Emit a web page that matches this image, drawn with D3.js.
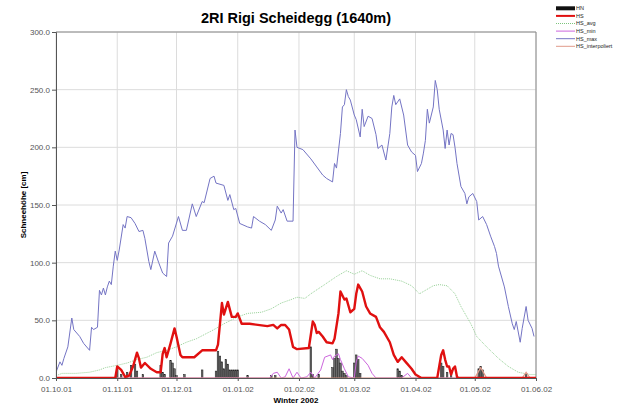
<!DOCTYPE html>
<html>
<head>
<meta charset="utf-8">
<script src="https://cdn.jsdelivr.net/npm/d3@7"></script>
<style>
  body { margin: 0; background: #fff; }
  text { font-family: "Liberation Sans", Arial, sans-serif; }
</style>
</head>
<body>
<div id="d3-container"></div>
<script>
/* CONSTANTS AND GLOBALS */
const width = 619,
  height = 406,
  margin = { top: 32, bottom: 28, left: 56, right: 83 };

// season starts on 01.10.01, all day numbers below count from there
const seasonStart = new Date(2001, 9, 1);
const seasonEnd = new Date(2002, 5, 1);

const title = "2RI Rigi Scheidegg (1640m)";
const yLabel = "Schneehöhe [cm]";
const xLabel = "Winter 2002";
const yTicks = [0, 50, 100, 150, 200, 250, 300];
const xTickLabels = ["01.10.01", "01.11.01", "01.12.01", "01.01.02", "01.02.02", "01.03.02", "01.04.02", "01.05.02", "01.06.02"];
const legendNames = ["HN", "HS", "HS_avg", "HS_min", "HS_max", "HS_interpoliert"];

// HS_max
const hsMaxDay = [0,2,3,4,6,8,9,12,14,17,18,19,21,22,23,24,25,26,27,28,29,30,31,32,34,35,36,38,40,42,44,45,47,48,50,52,54,56,57,59,62,64,66,69,71,74,75,78,80,81,85,87,88,90,91,93,97,99,100,103,106,109,111,112,114,115,117,120,121,122,125,129,132,135,137,140,141,142,144,145,146,147,148,149,151,152,154,155,156,158,160,162,163,165,167,169,170,171,172,174,176,178,180,182,183,185,186,187,188,189,191,192,193,194,196,197,198,199,200,201,202,203,205,207,208,209,211,213,214,216,218,220,222,223,224,227,229,231,232,233,235,236,238,239,241,242];
const hsMaxVal = [5,14,11,17,27,52,42,36,30,24,44,42,44,76,72,78,72,79,84,81,97,110,102,111,133,130,140,139,134,127,128,121,101,94,110,100,91,88,117,123,140,128,128,151,140,153,152,173,175,169,167,154,159,146,147,134,131,130,140,136,133,128,137,149,143,146,136,136,215,200,198,190,183,176,173,170,186,182,212,235,237,250,244,241,228,224,209,233,218,227,225,211,199,202,189,212,235,245,237,242,228,202,196,193,179,186,195,206,233,221,235,258,250,233,215,199,215,202,212,211,200,186,166,160,151,157,160,153,137,140,133,123,114,108,97,79,62,47,42,49,31,43,62,50,43,36];

// HS_avg
const hsAvgDay = [0,3,10,17,22,25,31,36,41,46,51,56,61,66,71,80,85,92,97,104,109,114,119,122,126,129,136,142,147,151,155,159,164,169,175,180,184,186,191,194,198,202,205,210,213,218,224,229,234,240,243];
const hsAvgVal = [2,4,4,5,7,9,11,13,16,18,22,24,27,31,34,42,47,53,56,57,60,65,68,70,69,73,81,88,93,90,93,89,86,86,84,80,73,75,80,81,80,73,62,47,36,27,17,10,5,3,3];

// HS
const hsDay = [0,30,31,33,35,37,39,41,42,43,45,48,51,53,54,55,56,58,60,61,63,64,70,74,81,82,84,85,87,89,91,92,94,98,107,110,112,114,116,118,120,122,128,130,131,132,133,135,137,140,141,143,144,146,147,149,151,152,153,155,157,159,162,164,166,169,171,173,175,177,180,182,185,193,195,196,197,198,199,200,201,202,203,204,243];
const hsVal = [0,0,10,7,1,2,10,22,17,9,13,8,5,5,21,26,18,30,43,36,20,18,18,24,24,29,65,55,66,53,53,56,47,47,45,46,43,46,46,42,27,25,26,49,46,39,40,36,31,30,34,56,75,68,69,57,60,73,81,75,62,56,53,44,40,31,20,14,18,14,8,3,0,0,20,24,16,10,10,3,8,10,1,0,0];

// HS_min
const hsMinDay = [31,108,110,112,114,116,118,120,122,124,127,129,131,134,136,139,140,141,143,144,146,148,151,152,153,155,158,160,162,175,178,180,243];
const hsMinVal = [0,0,4,5,0,1,8,0,5,0,1,5,0,7,18,20,16,19,21,16,8,1,0,14,19,17,11,4,0,0,4,0,0];

// HS_interpoliert
const hsIntDay = [0,212,214,215,216,218,236,238,240,243];
const hsIntVal = [0,0,6,9,6,0,0,5,0,0];

// HN (new snow, bars)
const hnDay = [31,33,36,38,40,41,44,53,54,55,58,59,60,61,65,74,81,82,83,84,85,86,87,88,89,90,91,92,97,109,111,129,130,133,140,141,142,143,144,145,146,147,151,152,153,154,173,174,175,195,196,198,200,214,215,216,238];
const hnVal = [8,3,5,11,12,6,3,11,5,3,15,13,8,2,3,7,6,23,19,14,8,16,12,7,7,7,7,7,2,2,2,27,3,3,9,17,25,17,13,6,4,2,13,20,16,4,8,6,2,13,10,5,4,8,10,7,4];

const colors = {
  HN: "#111",
  HS: "#e01010",
  HS_avg: "#7cc47c",
  HS_min: "#cc66dd",
  HS_max: "#7474c4",
  HS_interpoliert: "#e09a8a"
};

const toPoints = (days, vals) => days.map((d, i) => ({ date: d3.timeDay.offset(seasonStart, d), value: vals[i] }));

/* SCALES */
const xScale = d3.scaleTime()
  .domain([seasonStart, seasonEnd])
  .range([margin.left, width - margin.right]);

const yScale = d3.scaleLinear()
  .domain([0, 300])
  .range([height - margin.bottom, margin.top]);

/* SVG */
const svg = d3.select("#d3-container")
  .append("svg")
  .attr("width", width)
  .attr("height", height);

svg.append("defs").append("clipPath")
  .attr("id", "plot-clip")
  .append("rect")
  .attr("x", margin.left)
  .attr("y", margin.top)
  .attr("width", width - margin.left - margin.right)
  .attr("height", height - margin.top - margin.bottom);

// + GRID
const monthTicks = d3.timeMonth.range(seasonStart, d3.timeDay.offset(seasonEnd, 1));

svg.append("g")
  .selectAll("line")
  .data(monthTicks)
  .join("line")
  .attr("x1", d => xScale(d))
  .attr("x2", d => xScale(d))
  .attr("y1", margin.top)
  .attr("y2", height - margin.bottom)
  .attr("stroke", "#dcdcdc");

svg.append("g")
  .selectAll("line")
  .data(yTicks)
  .join("line")
  .attr("x1", margin.left)
  .attr("x2", width - margin.right)
  .attr("y1", d => yScale(d))
  .attr("y2", d => yScale(d))
  .attr("stroke", "#dcdcdc");

// frame top / right
svg.append("path")
  .attr("d", `M${margin.left},${margin.top}H${width - margin.right}V${height - margin.bottom}`)
  .attr("fill", "none")
  .attr("stroke", "#8a8a8a");

/* MARKS */
const plot = svg.append("g").attr("clip-path", "url(#plot-clip)");

const line = d3.line()
  .x(d => xScale(d.date))
  .y(d => yScale(d.value));

// HN bars
plot.append("g")
  .selectAll("rect")
  .data(toPoints(hnDay, hnVal))
  .join("rect")
  .attr("x", d => xScale(d.date) - 0.8)
  .attr("width", 1.6)
  .attr("y", d => yScale(d.value))
  .attr("height", d => yScale(0) - yScale(d.value))
  .attr("fill", "#6a6a6a")
  .attr("stroke", "#1a1a1a")
  .attr("stroke-width", 0.5);

plot.append("path")
  .datum(toPoints(hsAvgDay, hsAvgVal))
  .attr("d", line)
  .attr("fill", "none")
  .attr("stroke", colors.HS_avg)
  .attr("stroke-width", 0.8)
  .attr("stroke-dasharray", "1,1");

plot.append("path")
  .datum(toPoints(hsMinDay, hsMinVal))
  .attr("d", line)
  .attr("fill", "none")
  .attr("stroke", colors.HS_min)
  .attr("stroke-width", 1);

plot.append("path")
  .datum(toPoints(hsIntDay, hsIntVal))
  .attr("d", line)
  .attr("fill", "none")
  .attr("stroke", colors.HS_interpoliert)
  .attr("stroke-width", 1.2);

plot.append("path")
  .datum(toPoints(hsDay, hsVal))
  .attr("d", line)
  .attr("fill", "none")
  .attr("stroke", colors.HS)
  .attr("stroke-width", 2.4)
  .attr("stroke-linejoin", "round");

plot.append("path")
  .datum(toPoints(hsMaxDay, hsMaxVal))
  .attr("d", line)
  .attr("fill", "none")
  .attr("stroke", colors.HS_max)
  .attr("stroke-width", 1);

/* AXES */
const yAxis = d3.axisLeft(yScale)
  .tickValues(yTicks)
  .tickFormat(d3.format(".1f"))
  .tickSize(4)
  .tickPadding(2);

svg.append("g")
  .attr("class", "axis y-axis")
  .attr("transform", `translate(${margin.left},0)`)
  .call(yAxis)
  .call(g => g.select(".domain").attr("stroke", "#555"))
  .call(g => g.selectAll(".tick line").attr("stroke", "#555"))
  .call(g => g.selectAll(".tick text").attr("fill", "#555").attr("font-size", 8).attr("font-family", null));

const xAxis = d3.axisBottom(xScale)
  .tickValues(monthTicks)
  .tickFormat((d, i) => xTickLabels[i])
  .tickSize(3)
  .tickPadding(5);

svg.append("g")
  .attr("class", "axis x-axis")
  .attr("transform", `translate(0,${height - margin.bottom})`)
  .call(xAxis)
  .call(g => g.select(".domain").attr("stroke", "#555"))
  .call(g => g.selectAll(".tick line").attr("stroke", "#555"))
  .call(g => g.selectAll(".tick text").attr("fill", "#555").attr("font-size", 8).attr("font-family", null));

/* LABELS */
svg.append("text")
  .attr("x", (margin.left + width - margin.right) / 2)
  .attr("y", 23)
  .attr("text-anchor", "middle")
  .attr("font-size", 14.5)
  .attr("font-weight", "bold")
  .text(title);

svg.append("text")
  .attr("x", (margin.left + width - margin.right) / 2)
  .attr("y", 403)
  .attr("text-anchor", "middle")
  .attr("font-size", 8)
  .attr("font-weight", "bold")
  .text(xLabel);

svg.append("text")
  .attr("transform", `translate(26,${(margin.top + height - margin.bottom) / 2}) rotate(-90)`)
  .attr("text-anchor", "middle")
  .attr("font-size", 8)
  .attr("font-weight", "bold")
  .text(yLabel);

/* LEGEND */
const legend = svg.append("g")
  .selectAll("g")
  .data(legendNames)
  .join("g")
  .attr("transform", (d, i) => `translate(556,${8.3 + i * 7.6})`);

legend.append("line")
  .attr("x1", 0)
  .attr("x2", 19)
  .attr("stroke", d => colors[d])
  .attr("stroke-width", d => d === "HN" ? 4 : (d === "HS" ? 2 : 1))
  .attr("stroke-dasharray", d => d === "HS_avg" ? "1,1" : null);

legend.append("text")
  .attr("x", 20)
  .attr("dy", "0.35em")
  .attr("font-size", 5.5)
  .attr("fill", "#222")
  .text(d => d);
</script>
</body>
</html>
